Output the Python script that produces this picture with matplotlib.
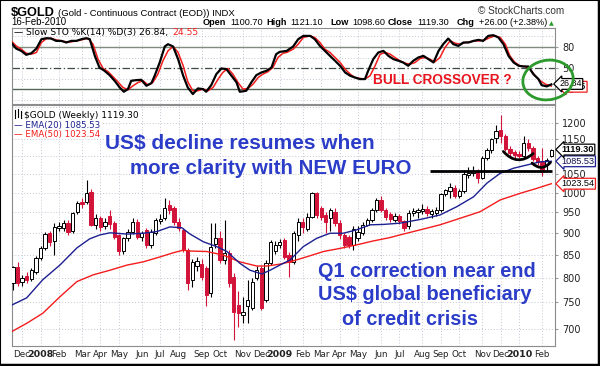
import numpy as np
import pandas as pd
import matplotlib
matplotlib.use("Agg")
import matplotlib.pyplot as plt
from matplotlib.patches import Ellipse, Rectangle
from matplotlib.lines import Line2D
import matplotlib.transforms as mtrans

# weekly gold bars, first bar = week ending 23-Nov-2007, last = 16-Feb-2010
opens = [790, 822, 792, 803, 797, 813, 842, 864, 899, 882, 912, 912, 923, 905, 951, 976, 976, 1002, 919, 935,
         917, 940, 923, 895, 858, 887, 903, 927, 891, 907, 872, 899, 929, 935, 968, 960, 925, 907, 860, 796,
         824, 830, 820, 768, 875, 887, 838, 853, 802, 745, 726, 742, 739, 799, 820, 755, 831, 857, 872, 883,
         849, 834, 895, 927, 910, 939, 998, 960, 943, 935, 951, 923, 895, 891, 872, 887, 899, 919, 931, 955,
         981, 955, 945, 931, 940, 928, 915, 948, 950, 952, 958, 945, 948, 955, 996, 1005, 1012, 991, 1003, 1048,
         1052, 1058, 1040, 1096, 1118, 1153, 1178, 1160, 1120, 1112, 1106, 1100, 1140, 1125, 1095, 1083, 1075, 1100.7]
highs = [826, 834, 805, 812, 820, 848, 870, 903, 905, 923, 925, 930, 930, 951, 978, 985, 1034, 1010, 945, 940,
         935, 955, 928, 898, 890, 908, 935, 933, 905, 912, 910, 935, 945, 985, 980, 965, 935, 912, 864, 840,
         845, 840, 825, 923, 923, 905, 931, 860, 810, 772, 760, 796, 800, 825, 825, 838, 883, 880, 885, 887,
         855, 905, 935, 935, 947, 1002, 1002, 965, 950, 960, 960, 930, 900, 895, 915, 915, 925, 935, 960, 985,
         990, 960, 950, 948, 945, 930, 955, 960, 960, 970, 965, 958, 962, 1000, 1010, 1025, 1020, 1010, 1062, 1070,
         1072, 1065, 1102, 1123, 1155, 1195, 1226, 1165, 1130, 1118, 1115, 1160, 1150, 1130, 1100, 1123, 1095, 1121.1]
lows = [775, 783, 783, 790, 793, 808, 838, 860, 870, 850, 905, 905, 895, 900, 945, 960, 970, 915, 910, 905,
        908, 910, 885, 850, 852, 882, 898, 885, 880, 865, 865, 895, 920, 930, 945, 918, 905, 855, 775, 780,
        815, 795, 742, 760, 865, 831, 830, 780, 680, 704, 710, 710, 735, 795, 735, 750, 828, 852, 865, 840,
        802, 830, 880, 900, 905, 935, 935, 930, 900, 905, 915, 885, 865, 865, 860, 880, 895, 915, 925, 950,
        950, 930, 925, 925, 920, 905, 908, 940, 935, 945, 940, 935, 940, 950, 990, 985, 985, 985, 1000, 1040,
        1045, 1025, 1035, 1090, 1110, 1140, 1140, 1115, 1100, 1095, 1095, 1095, 1115, 1085, 1075, 1045, 1060, 1098.6]
closes = [822, 789, 799, 796, 816, 842, 864, 898, 879, 914, 917, 923, 903, 947, 973, 970, 998, 919, 935, 914,
          927, 920, 891, 857, 887, 903, 927, 891, 899, 872, 903, 931, 933, 960, 955, 925, 912, 860, 789, 834,
          836, 802, 765, 868, 887, 838, 853, 789, 732, 729, 732, 755, 792, 816, 739, 831, 879, 872, 879, 845,
          834, 899, 927, 914, 939, 998, 943, 939, 927, 955, 923, 895, 872, 872, 910, 903, 919, 931, 955, 981,
          955, 939, 934, 941, 928, 912, 948, 953, 955, 958, 949, 953, 955, 996, 1006, 1015, 991, 1003, 1050, 1052,
          1058, 1040, 1096, 1118, 1150, 1175, 1160, 1120, 1110, 1104, 1100, 1140, 1125, 1092, 1083, 1055, 1090, 1119.3]

# EMA lines (week index, price)
ema20_x = [-0.2, 3.0, 6.5, 10.2, 13.9, 16.7, 18.9, 21.1, 24.8, 28.3, 31.3, 34.1, 36.7, 38.5, 41.4, 44.3, 46.5,
           49.3, 51.5, 54.1, 55.9, 58.0, 60.2, 63.1, 66.0, 68.9, 71.8, 74.7, 77.6, 80.5, 84.1, 88.5, 92.8,
           96.5, 100.1, 103.0, 105.9, 108.8, 111.7, 114.6, 117.0]
ema20_y = [745, 759, 796, 827, 865, 886, 895, 900, 897, 899, 903, 914, 912, 897, 879, 868, 857,
           831, 816, 808, 816, 827, 838, 868, 887, 899, 899, 907, 919, 920, 923, 932, 943,
           964, 989, 1025, 1052, 1066, 1075, 1084, 1085.53]
ema50_x = [-0.2, 3.0, 6.5, 10.2, 13.9, 17.4, 21.1, 24.8, 28.3, 32.0, 34.8, 37.0, 38.5, 42.1, 45.7, 49.3, 53.0,
           55.2, 58.0, 60.2, 63.8, 67.5, 71.1, 74.7, 78.3, 82.0, 84.1, 88.5, 92.8, 97.2, 101.5, 105.9, 110.2,
           113.8, 117.0]
ema50_y = [695, 710, 729, 761, 792, 806, 816, 827, 834, 845, 854, 860, 858, 857, 849, 834, 825,
           825, 829, 834, 845, 857, 864, 872, 881, 889, 895, 907, 919, 935, 951, 981, 998,
           1011, 1023.54]

# slow stochastics
sto_k_x = [-0.4, 0.7, 1.8, 2.9, 4.0, 5.1, 6.2, 7.3, 8.3, 9.4, 10.5, 11.6, 12.7, 13.8, 14.9, 15.9, 16.7, 17.8,
           18.8, 19.9, 21.0, 22.1, 23.2, 24.1, 25.0, 25.7, 26.8, 27.9, 29.0, 30.1, 30.8, 31.9, 33.0, 33.7, 34.8,
           35.9, 37.0, 38.0, 39.1, 40.2, 41.3, 42.0, 43.1, 44.2, 45.3, 46.4, 47.5, 48.6, 49.3, 50.7, 51.8, 52.9,
           54.0, 55.1, 56.2, 57.2, 58.0, 59.5, 60.9, 62.0, 63.1, 64.6, 65.6, 66.7, 67.8, 68.9, 70.0, 71.1, 72.2,
           73.3, 74.3, 75.4, 76.5, 77.2, 78.3, 79.4, 80.5, 81.6, 82.7, 83.8, 84.8, 85.9, 87.0, 88.1, 89.2, 90.3,
           91.4, 92.5, 93.5, 94.6, 95.7, 96.8, 97.9, 99.0, 100.1, 101.2, 102.2, 103.3, 104.4, 105.5, 106.6,
           107.7, 108.8, 109.9, 110.9, 112.0, 113.1, 114.2, 114.9, 116.0, 117.0]
sto_k_y = [86.4, 77.8, 74.5, 68.9, 71.2, 77.8, 91.1, 92.5, 92.0, 88.7, 88.7, 86.4, 88.7, 88.7, 91.1, 92.5, 91.1, 67.4,
           50.9, 46.2, 40.0, 32.0, 22.5, 16.4, 20.2, 32.0, 32.9, 33.4, 24.9, 28.7, 39.1, 58.0, 80.7, 84.0, 80.7,
           62.7, 39.1, 22.5, 13.1, 21.1, 20.2, 16.4, 25.8, 41.4, 49.5, 48.5, 39.1, 29.6, 16.4, 17.8, 29.6, 40.0,
           43.8, 46.2, 50.9, 69.8, 73.1, 74.5, 80.7, 91.1, 95.8, 95.8, 91.1, 81.6, 74.5, 67.4, 60.4, 53.3, 43.8,
           39.1, 36.7, 34.4, 34.4, 46.2, 62.7, 72.2, 74.5, 67.4, 62.7, 60.4, 58.0, 53.3, 60.4, 65.1, 67.4, 62.7,
           58.0, 74.5, 84.0, 92.0, 84.0, 81.6, 86.4, 86.4, 88.7, 90.1, 88.7, 95.8, 96.8, 93.5, 84.0,
           67.4, 58.0, 53.3, 52.3, 52.3, 41.4, 34.4, 25.8, 24.0, 26.84]
sto_d_x = [-0.4, 0.7, 1.8, 2.9, 4.0, 5.1, 6.2, 7.3, 8.3, 9.4, 10.5, 11.6, 12.7, 13.8, 14.9, 16.3, 17.4, 18.5,
           19.6, 20.7, 21.7, 22.8, 23.9, 25.0, 26.1, 27.2, 28.3, 29.4, 30.4, 31.5, 32.6, 33.7, 34.8, 35.9, 37.0,
           38.0, 39.1, 40.2, 41.3, 42.4, 43.5, 44.6, 45.6, 46.7, 47.8, 48.9, 50.0, 51.1, 52.2, 53.3, 54.3, 55.4,
           56.5, 57.6, 58.7, 59.5, 60.9, 62.0, 63.1, 64.6, 65.6, 66.7, 67.8, 68.9, 70.0, 71.1, 72.2, 73.3, 74.3,
           75.4, 76.5, 77.6, 78.7, 79.8, 80.9, 82.0, 83.0, 84.1, 85.2, 86.3, 87.4, 88.5, 89.6, 90.6, 91.7, 92.8,
           93.9, 95.0, 96.1, 97.2, 98.3, 99.3, 100.4, 101.5, 102.6, 103.7, 104.8, 105.9, 107.0, 108.0, 109.1,
           110.2, 111.3, 112.4, 113.5, 114.6, 115.7, 117.0]
sto_d_y = [88.7, 81.6, 76.9, 71.2, 69.8, 72.2, 86.4, 92.0, 92.5, 90.1, 88.7, 87.3, 87.3, 88.7, 90.1, 92.5, 84.0, 62.7,
           49.5, 44.8, 38.1, 30.6, 22.5, 19.2, 24.9, 29.6, 32.0, 25.8, 29.6, 41.4, 60.4, 74.5, 80.7, 72.2, 53.3,
           30.6, 17.8, 17.8, 20.2, 17.8, 22.5, 34.4, 43.8, 49.5, 41.4, 29.6, 20.2, 21.1, 27.3, 36.7, 41.4, 44.8,
           50.9, 65.1, 71.2, 72.2, 76.9, 84.0, 93.5, 95.8, 93.5, 86.4, 76.9, 72.2, 65.1, 58.0, 48.5, 41.4, 36.7,
           35.3, 34.4, 39.1, 53.3, 69.8, 72.2, 69.8, 65.1, 60.4, 57.0, 55.6, 58.0, 63.7, 65.1, 62.7, 58.9, 65.1,
           79.3, 88.7, 85.4, 84.0, 86.4, 87.3, 88.7, 88.7, 90.1, 93.5, 95.8, 93.5, 84.0, 67.4, 58.0,
           53.3, 52.3, 48.5, 39.1, 32.0, 27.3, 24.55]

price_ticks = [700, 750, 800, 850, 900, 950, 1000, 1050, 1150, 1200]
sto_ticks = [20, 50, 80]
support_level = 1059
support_weeks = (90.7, 117.2)

# header line: text, weight, x position in pixels
header = [("Open", "bold", 203), ("1100.70", "normal", 230), ("High", "bold", 266),
          ("1121.10", "normal", 290), ("Low", "bold", 330), ("1098.60", "normal", 352),
          ("Close", "bold", 388), ("1119.30", "normal", 417), ("Chg", "bold", 457),
          ("+26.00 (+2.38%)", "normal", 479)]

W, H = 600, 366
UP, DOWN = "black", "#d3143a"
NAVY, RED = "#1c2090", "#f41c1c"
BLUE_TXT = "#2a3cc8"
GRID = "#c4c4d4"
SMALL = "DejaVu Sans"
BIG = "Liberation Sans"

dates = pd.date_range("2007-11-23", periods=len(closes), freq="W-FRI")
idx = np.arange(len(closes))


def fx(px):
    return px / W


def fy(py):
    return 1 - py / H


def text_run(fig, x, y, parts, size, family, gap=3.0):
    # draw text pieces one after another on a baseline, x,y in pixels
    r = fig.canvas.get_renderer()
    for s, w, c in parts:
        t = fig.text(fx(x), fy(y), s, fontsize=size, family=family, fontweight=w, color=c, va="baseline")
        x += t.get_window_extent(renderer=r).width + gap
    return x


fig = plt.figure(figsize=(6, 3.66), dpi=100)
fig.patch.set_facecolor("white")

ax_s = fig.add_axes([fx(12), fy(104), 543 / W, 76 / H])
ax = fig.add_axes([fx(12), fy(346), 543 / W, 241 / H])

# month grid / labels
month_pos, month_lab = [], []
for i in range(1, len(dates)):
    if dates[i].month != dates[i - 1].month:
        month_pos.append(i)
        month_lab.append(str(dates[i].year) if dates[i].month == 1 else dates[i].strftime("%b"))

for a in (ax, ax_s):
    a.set_xlim(-0.2, 117.8)
    for p in month_pos:
        a.axvline(p, color=GRID, lw=0.7, ls=(0, (1, 2)), zorder=0)
    for s in a.spines.values():
        s.set_color("#8c8c8c")
        s.set_linewidth(0.8)

# ---- stochastic panel
ax_s.set_ylim(-1, 107)
for g in [5, 35, 65, 95]:
    ax_s.axhline(g, color=GRID, lw=0.7, ls=(0, (1, 2)), zorder=0)
ax_s.axhline(80, color="#7d8c7d", lw=1.0, zorder=1)
ax_s.axhline(20, color="#56665a", lw=1.0, zorder=1)
ax_s.axhline(50, color="#3c4a40", lw=0.9, ls=(0, (6, 2, 1, 2)), zorder=1)
ax_s.plot(sto_d_x, sto_d_y, color=RED, lw=1.1, zorder=3)
ax_s.plot(sto_k_x, sto_k_y, color="black", lw=1.6, zorder=4)
ax_s.set_xticks([])
ax_s.yaxis.tick_right()
ax_s.set_yticks(sto_ticks)
ax_s.set_yticklabels([str(t) for t in sto_ticks], fontsize=7, family=SMALL, color="#222222")
ax_s.tick_params(axis="y", length=2, pad=3, color="#999999")

# ---- price panel
ax.set_yscale("log")
ax.set_ylim(669, 1258)
for g in range(700, 1251, 50):
    ax.axhline(g, color=GRID, lw=0.7, ls=(0, (1, 2)), zorder=0)

for i in idx:
    o, h, l, c = opens[i], highs[i], lows[i], closes[i]
    up = c >= o
    col = UP if up else DOWN
    ax.vlines(i, l, h, color=col, lw=0.8, zorder=2)
    ax.bar(i, abs(c - o) if abs(c - o) > 0.5 else 1.0, bottom=min(o, c), width=0.72,
           facecolor="white" if up else DOWN, edgecolor=col, linewidth=0.7, zorder=3)

ax.plot(ema50_x, ema50_y, color=RED, lw=1.0, zorder=4)
ax.plot(ema20_x, ema20_y, color=NAVY, lw=1.0, zorder=4)

# hand drawn marks
ax.hlines(support_level, support_weeks[0], support_weeks[1], color="black", lw=2.0, zorder=6)
ax.annotate("", xy=(113.5, 1113), xytext=(106.2, 1120),
            arrowprops=dict(arrowstyle="-", color="black", lw=2.0, connectionstyle="arc3,rad=0.55"), zorder=6)
ax.annotate("", xy=(117.2, 1088), xytext=(112.4, 1086),
            arrowprops=dict(arrowstyle="-", color="black", lw=2.0, connectionstyle="arc3,rad=0.6"), zorder=6)

ax.yaxis.tick_right()
ax.yaxis.set_minor_locator(matplotlib.ticker.NullLocator())
ax.set_yticks(price_ticks)
ax.set_yticklabels([str(t) for t in price_ticks], fontsize=7, family=SMALL, color="#222222")
ax.tick_params(axis="y", length=2, pad=3, color="#999999", which="both")
ax.set_xticks(month_pos)
ax.set_xticklabels(month_lab, fontsize=6.3, family=SMALL, color="#222222")
for t in ax.get_xticklabels():
    if t.get_text().isdigit():
        t.set_fontweight("bold")
        t.set_fontsize(6.8)
ax.tick_params(axis="x", length=0, pad=3)

# value tags on the right edge
tr_main = mtrans.blended_transform_factory(ax.transAxes, ax.transData)
for val, ec, tc, fw in [(1023.54, RED, "black", "normal"), (1085.53, NAVY, "#101050", "normal"),
                        (1119.30, "black", "black", "bold")]:
    ax.text(1.012, val, f"{val:.2f}", transform=tr_main, fontsize=6.6, family=BIG, color=tc,
            fontweight=fw, va="center", ha="left", zorder=10, clip_on=False,
            bbox=dict(boxstyle="larrow,pad=0.1", fc="white", ec=ec, lw=0.9))

tr_sto = mtrans.blended_transform_factory(ax_s.transAxes, ax_s.transData)
ax_s.text(1.016, 23.5, "24.55", transform=tr_sto, fontsize=6.4, family=BIG, va="center", ha="left",
          clip_on=False, zorder=10, bbox=dict(boxstyle="larrow,pad=0.1", fc="white", ec=RED, lw=0.9))
ax_s.text(1.008, 27.5, "26.84", transform=tr_sto, fontsize=6.4, family=BIG, va="center", ha="left",
          clip_on=False, zorder=11, bbox=dict(boxstyle="larrow,pad=0.1", fc="white", ec="black", lw=0.9))

ell = Ellipse((548 / W, fy(80)), 50 / W, 40 / H, angle=-8, transform=fig.transFigure,
              fill=False, ec="#2c9a2c", lw=2.0, zorder=20)
fig.add_artist(ell)

# ---- legends
text_run(fig, 14, 35, [("\u2014 Slow STO %K(14) %D(3) 26.84,", "normal", "black"),
                       ("24.55", "normal", RED)], 6.6, SMALL, gap=4)

fig.add_artist(Line2D([fx(15), fx(15)], [fy(110), fy(118)], color="black", lw=0.8))
fig.add_artist(Line2D([fx(18), fx(18)], [fy(109), fy(117)], color="black", lw=0.8))
fig.add_artist(Line2D([fx(21), fx(21)], [fy(111), fy(118)], color="black", lw=0.8))
fig.text(fx(24), fy(118), "$GOLD (Weekly) 1119.30", fontsize=6.5, family=SMALL, va="baseline",
         bbox=dict(fc="white", ec="none", pad=0.5))
fig.text(fx(14), fy(128), "\u2014 EMA(20) 1085.53", fontsize=6.2, family=SMALL, color=NAVY, va="baseline",
         bbox=dict(fc="white", ec="none", pad=0.3))
fig.text(fx(14), fy(137), "\u2014 EMA(50) 1023.54", fontsize=6.2, family=SMALL, color=RED, va="baseline",
         bbox=dict(fc="white", ec="none", pad=0.3))

# ---- header
fig.text(fx(11), fy(16.5), "$GOLD", fontsize=9.2, family=BIG, fontweight="bold", va="baseline")
fig.text(fx(58), fy(16.5), "(Gold - Continuous Contract (EOD)) INDX", fontsize=6.8, family=BIG, va="baseline")
fig.text(fx(11), fy(25), "16-Feb-2010", fontsize=6.9, family=BIG, va="baseline")
fig.text(fx(478), fy(14), "\u00a9 StockCharts.com", fontsize=7.2, family=BIG, color="#333333", va="baseline")

for s, w, hx in header:
    fig.text(fx(hx), fy(25), s, fontsize=6.6, family=BIG, fontweight=w, va="baseline")
fig.text(fx(549), fy(25), "\u25b2", fontsize=4.5, color="#2c9a2c", va="baseline")

# ---- annotations
fig.text(fx(105), fy(149.5), "US$ decline resumes when", fontsize=15, family=BIG, fontweight="bold",
         color=BLUE_TXT, va="baseline", zorder=15)
fig.text(fx(130), fy(174), "more clarity with NEW EURO", fontsize=14.8, family=BIG, fontweight="bold",
         color=BLUE_TXT, va="baseline", zorder=15)
fig.text(fx(318), fy(277), "Q1 correction near end", fontsize=14.3, family=BIG, fontweight="bold",
         color=BLUE_TXT, va="baseline", zorder=15)
fig.text(fx(318), fy(300), "US$ global beneficiary", fontsize=14.3, family=BIG, fontweight="bold",
         color=BLUE_TXT, va="baseline", zorder=15)
fig.text(fx(342), fy(325), "of credit crisis", fontsize=14.3, family=BIG, fontweight="bold",
         color=BLUE_TXT, va="baseline", zorder=15)
fig.text(fx(373), fy(84), "BULL CROSSOVER ?", fontsize=9.8, family=BIG, fontweight="bold",
         color="#e8141e", va="baseline", zorder=15)

# outer frame
fig.add_artist(Rectangle((0, 0), 1, 1, transform=fig.transFigure, fill=False, ec="black", lw=1.5))
fig.add_artist(Line2D([fx(598.5), fx(598.5)], [0, 1], color="black", lw=2.5))
fig.add_artist(Line2D([0, 1], [fy(364.5), fy(364.5)], color="black", lw=2.5))

fig.savefig("out.png", dpi=100)
